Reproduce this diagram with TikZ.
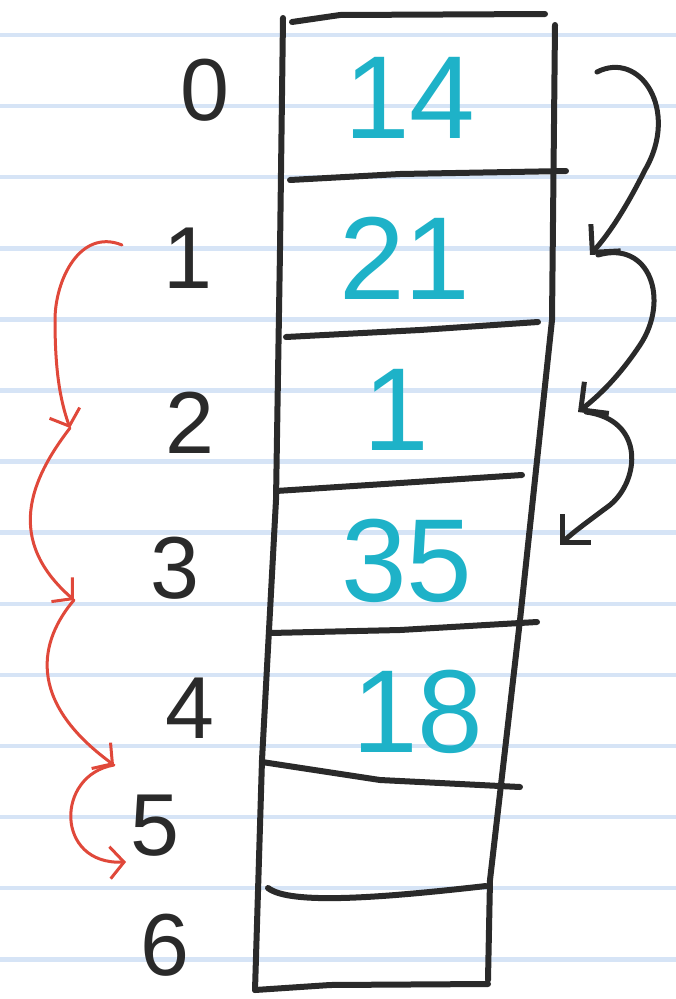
\documentclass[tikz,border=0pt]{standalone}
\usepackage{fontspec}
\setmainfont{Liberation Sans}
\usetikzlibrary{arrows.meta}
\definecolor{ruled}{HTML}{D6E4F6}
\definecolor{pencyan}{HTML}{1EB2C8}
\definecolor{penred}{HTML}{E0483A}
\definecolor{penblack}{HTML}{2A2A2A}
\tikzset{
  ink/.style={line width=6pt, penblack, line cap=round, line join=round},
  hop/.style={line width=5pt, penblack, line cap=round, -{Straight Barb[length=20pt,width=40pt,line width=5pt]}},
  redhop/.style={line width=3pt, penred, line cap=round, -{Straight Barb[length=14pt,width=32pt,line width=3pt]}},
  idx/.style={font=\fontsize{88}{90}\selectfont, text=penblack, inner sep=0pt},
  val/.style={font=\fontsize{118}{120}\selectfont, text=pencyan, inner sep=0pt}
}
\begin{document}
\begin{tikzpicture}[x=1pt, y=-1pt]
  \useasboundingbox (0,0) rectangle (676,999);
  \fill[white] (0,0) rectangle (676,999);
  \foreach \k in {0,...,13}
    \draw[ruled, line width=4.5pt] (0,{35+71.1*\k}) -- (676,{35+71.1*\k});

  % the array
  \draw[ink] (283,18) -- (280,250) -- (276,500) -- (262,760) -- (255,990);
  \draw[ink] (555,25) -- (552,320) -- (520,620) -- (490,880) -- (488,980);
  \draw[ink] (292,22) -- (340,15) -- (545,14);
  \draw[ink] (255,990) -- (330,985) -- (488,984);
  \draw[ink] (290,180) -- (400,174) -- (566,171);
  \draw[ink] (286,337) -- (420,330) -- (538,322);
  \draw[ink] (276,491) -- (400,483) -- (522,475);
  \draw[ink] (270,633) -- (400,630) -- (537,622);
  \draw[ink] (262,762) -- (380,780) -- (520,787);
  \draw[ink] (268,888) .. controls (290,905) and (380,898) .. (486,886);

  \node[val] (v0) at (410,98) {14};
  \node[val] (v1) at (405,258) {21};
  \node[val] (v2) at (396,410) {1};
  \node[val] (v3) at (407,561) {35};
  \node[val] (v4) at (418,712) {18};

  \foreach \i/\x/\y in {0/205/90, 1/188/258, 2/190/423, 3/175/568, 4/190/708, 5/155/826, 6/165/945}
    \node[idx] (i\i) at (\x,\y) {\i};

  % pointer moves on the right
  \coordinate (r0) at (597,72);
  \coordinate (r1) at (590,255);
  \coordinate (r2) at (578,412);
  \coordinate (r3) at (560,545);
  \draw[hop] (r0) .. controls (640,50) and (680,110) .. (645,170) .. controls (625,210) and (608,235) .. (r1);
  \draw[hop] ([xshift=8pt]r1) .. controls (650,240) and (670,300) .. (640,345) .. controls (620,375) and (600,395) .. (r2);
  \draw[hop] ([xshift=8pt]r2) .. controls (645,420) and (640,480) .. (610,505) .. controls (590,520) and (572,533) .. (r3);

  % steps on the left
  \coordinate (l1) at (122,245);
  \coordinate (l2) at (70,428);
  \coordinate (l3) at (74,600);
  \coordinate (l4) at (114,765);
  \coordinate (l5) at (126,862);
  \draw[redhop] (l1) .. controls (80,228) and (55,280) .. (55,320) .. controls (55,370) and (60,400) .. (l2);
  \draw[redhop] (l2) .. controls (30,480) and (5,540) .. (l3);
  \draw[redhop] (l3) .. controls (40,640) and (25,700) .. (l4);
  \draw[redhop] (l4) .. controls (55,775) and (55,865) .. (l5);
\end{tikzpicture}
\end{document}
